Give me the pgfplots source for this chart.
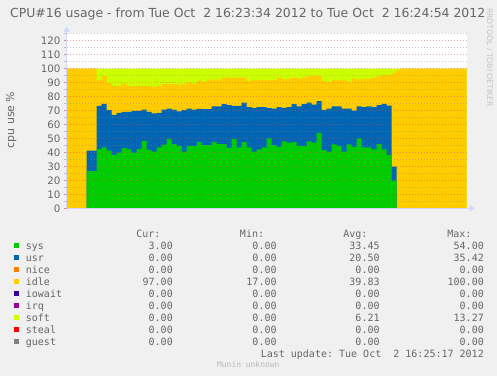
\documentclass[border=0pt]{standalone}
\usepackage{fontspec}
\setmainfont{DejaVu Sans}
\newfontfamily\monofont{DejaVu Sans Mono}
\usepackage{pgfplots}
\pgfplotsset{compat=1.18}
\usepackage{pgfplotstable}
\usetikzlibrary{arrows.meta}
\definecolor{bgc}{HTML}{F0F0F0}
\definecolor{fontc}{HTML}{666666}
\definecolor{axisc}{HTML}{CFD6F8}
\definecolor{mgridc}{HTML}{DE5050}
\definecolor{gridc}{HTML}{8F8F8F}
\definecolor{sysc}{HTML}{00CC00}
\definecolor{usrc}{HTML}{0066B3}
\definecolor{nicec}{HTML}{FF8000}
\definecolor{idlec}{HTML}{FFCC00}
\definecolor{iowaitc}{HTML}{330099}
\definecolor{irqc}{HTML}{990099}
\definecolor{softc}{HTML}{CCFF00}
\definecolor{stealc}{HTML}{FF0000}
\definecolor{guestc}{HTML}{808080}
\definecolor{wmc}{HTML}{C4C4C4}

\pgfplotstableread{
t sys usr idle soft
0 0 0 100 0
1 0 0 100 0
2 0 0 100 0
3 0 0 100 0
4 26.7 14.5 58.8 0
5 26.7 14.5 58.8 0
6 42.1 31.2 18.4 8.3
7 43.6 31.2 20.0 5.2
8 41.2 29.0 19.6 10.2
9 38.3 28.6 20.7 12.4
10 39.8 28.5 19.3 12.4
11 43.1 25.9 20.3 10.7
12 42.1 26.9 18.6 12.4
13 39.8 30.0 17.8 12.4
14 42.6 27.2 17.8 12.4
15 48.3 22.3 17.0 12.4
16 41.9 27.1 18.6 12.4
17 40.5 27.4 19.0 13.1
18 43.6 24.7 19.3 12.4
19 45.5 25.2 18.3 11.0
20 49.5 21.9 17.6 11.0
21 46.0 24.7 18.3 11.0
22 44.5 24.8 19.0 11.7
23 40.5 29.7 18.8 11.0
24 44.5 26.9 18.8 9.8
25 44.5 26.2 18.3 11.0
26 47.6 23.6 20.2 8.6
27 45.2 25.8 19.5 9.5
28 45.2 25.8 21.1 7.9
29 47.6 25.3 19.2 7.9
30 46.0 26.9 19.2 7.9
31 46.0 28.5 19.1 6.4
32 43.1 30.7 19.8 6.4
33 49.5 23.8 20.3 6.4
34 43.6 29.7 20.3 6.4
35 47.4 28.3 17.9 6.4
36 43.6 28.8 18.6 9.0
37 40.5 31.4 19.8 8.3
38 42.1 30.3 19.7 7.9
39 43.6 28.8 19.3 8.3
40 50.0 21.7 20.0 8.3
41 45.2 26.2 20.3 8.3
42 44.0 28.4 21.4 6.2
43 47.9 24.0 20.5 7.6
44 46.9 25.5 20.5 7.1
45 47.4 27.1 19.3 6.2
46 44.5 28.4 20.0 7.1
47 44.5 30.0 19.3 6.2
48 47.9 27.8 19.3 5.0
49 46.9 27.4 20.7 5.0
50 54.0 22.7 18.3 5.0
51 41.7 28.8 20.5 9.0
52 40.5 30.9 18.8 9.8
53 45.7 27.2 18.8 8.3
54 44.5 28.4 18.8 8.3
55 40.5 30.9 20.7 7.9
56 45.7 25.7 19.3 9.3
57 44.0 26.0 22.9 7.1
58 50.0 22.9 19.2 7.9
59 43.6 28.8 20.5 7.1
60 43.6 29.3 20.0 7.1
61 42.1 30.3 21.2 6.4
62 46.0 27.8 20.7 5.5
63 42.1 32.7 20.7 4.5
64 38.1 35.4 22.0 4.5
65 19.8 10.0 67.1 3.1
66 0 0 99.3 0.7
67 0 0 100 0
68 0 0 100 0
69 0 0 100 0
70 0 0 100 0
71 0 0 100 0
72 0 0 100 0
73 0 0 100 0
74 0 0 100 0
75 0 0 100 0
76 0 0 100 0
77 0 0 100 0
78 0 0 100 0
79 0 0 100 0
80 0 0 100 0
}\cpudata

\begin{document}
\frenchspacing
\begin{tikzpicture}[x=1bp,y=1bp]
\fill[bgc] (0,0) rectangle (497,376);
\begin{axis}[
  at={(66.7bp,167.7bp)}, anchor=south west,
  scale only axis, width=400bp, height=175.6bp,
  xmin=0, xmax=80, ymin=0, ymax=125.7,
  axis background/.style={fill=white},
  axis on top,
  axis x line*=bottom, axis y line*=left,
  axis line style={draw=axisc, line width=0.8bp},
  x axis line style={-{Triangle[length=5bp,width=6bp]}, shorten >=-8bp},
  y axis line style={-{Triangle[length=5bp,width=6bp]}, shorten >=-6bp},
  xtick=\empty,
  minor xtick={26,56},
  ytick={0,10,...,120},
  minor ytick={5,15,...,125},
  ymajorgrids, yminorgrids, xminorgrids,
  major grid style={draw=mgridc, draw opacity=0.5, line width=0.8bp, dash pattern=on 1bp off 2bp},
  minor grid style={draw=gridc, draw opacity=0.45, line width=0.8bp, dash pattern=on 1bp off 2bp},
  tick align=outside,
  major tick length=3bp, minor tick length=2.5bp,
  every major tick/.append style={draw=mgridc!70, line width=0.8bp},
  every minor tick/.append style={draw=gridc!60, line width=0.8bp},
  /pgf/number format/assume math mode=true,
  yticklabel style={font=\fontsize{10.3}{12}\selectfont, text=fontc, inner sep=0pt, anchor=east, xshift=-3bp},
]
\addplot[fill=softc, draw=none, const plot] table[x=t, y expr=\thisrow{sys}+\thisrow{usr}+\thisrow{idle}+\thisrow{soft}] {\cpudata} \closedcycle;
\addplot[fill=idlec, draw=none, const plot] table[x=t, y expr=\thisrow{sys}+\thisrow{usr}+\thisrow{idle}] {\cpudata} \closedcycle;
\addplot[fill=usrc, draw=none, const plot] table[x=t, y expr=\thisrow{sys}+\thisrow{usr}] {\cpudata} \closedcycle;
\addplot[fill=sysc, draw=none, const plot] table[x=t, y=sys] {\cpudata} \closedcycle;
\end{axis}

% title
\node[anchor=base, inner sep=0pt, font=\fontsize{12.5}{14}\selectfont, text=fontc] at (247.7,358.5)
  {CPU\#16 usage - from Tue Oct~~2 16:23:34 2012 to Tue Oct~~2 16:24:54 2012};
% y label
\node[rotate=90, anchor=base, inner sep=0pt, font=\fontsize{11}{13}\selectfont, text=fontc] at (14,256) {cpu use \%};
% watermark
\node[rotate=-90, anchor=center, inner sep=0pt, font=\fontsize{7.7}{9}\selectfont, text=wmc] at (489.7,318.5) {RRDTOOL / TOBI OETIKER};

% legend table
\begin{scope}[every node/.style={inner sep=0pt, font=\monofont\fontsize{10.05}{12}\selectfont\frenchspacing, text=fontc}]
\node[anchor=base east] at (160.7,138.7) {Cur:};
\node[anchor=base east] at (264.3,138.7) {Min:};
\node[anchor=base east] at (367.7,138.7) {Avg:};
\node[anchor=base east] at (471.7,138.7) {Max:};
\foreach \k/\nm/\col/\cur/\mn/\av/\mx in {
  0/sys/sysc/3.00/0.00/33.45/54.00,
  1/usr/usrc/0.00/0.00/20.50/35.42,
  2/nice/nicec/0.00/0.00/0.00/0.00,
  3/idle/idlec/97.00/17.00/39.83/100.00,
  4/iowait/iowaitc/0.00/0.00/0.00/0.00,
  5/irq/irqc/0.00/0.00/0.00/0.00,
  6/soft/softc/0.00/0.00/6.21/13.27,
  7/steal/stealc/0.00/0.00/0.00/0.00,
  8/guest/guestc/0.00/0.00/0.00/0.00}{
  \pgfmathsetmacro{\yb}{126.7-12*\k}
  \pgfmathsetmacro{\yc}{130.3-12*\k}
  \fill[\col] (14,\yc-2.7) rectangle (19.4,\yc+2.7);
  \node[anchor=base west] at (25.7,\yb) {\nm};
  \node[anchor=base east] at (173,\yb) {\cur};
  \node[anchor=base east] at (276.8,\yb) {\mn};
  \node[anchor=base east] at (379.8,\yb) {\av};
  \node[anchor=base east] at (484,\yb) {\mx};
}
\node[anchor=base east] at (484,18.7) {Last update:\ Tue Oct~~2 16:25:17 2012};
\end{scope}
\node[anchor=base, inner sep=0pt, font=\monofont\fontsize{8}{9}\selectfont, text=black!27] at (248.3,8.3) {Munin unknown};

\pgfresetboundingbox
\useasboundingbox (0,0) rectangle (497,376);
\end{tikzpicture}
\end{document}
